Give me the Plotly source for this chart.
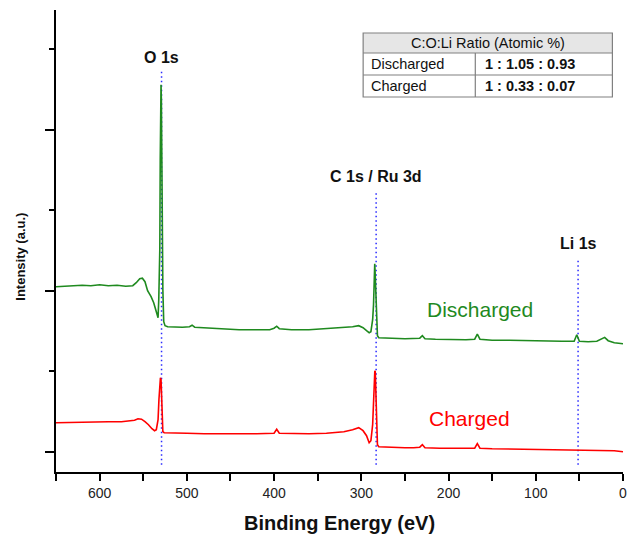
import plotly.graph_objects as go

# XPS survey spectra: binding energy (eV) and intensity (a.u.)
discharged_be = [650, 640, 630, 620, 610, 600, 590, 580, 570, 562, 558, 554, 551, 548, 545, 541,
                 538, 536, 534, 533, 532.2, 531.5, 531, 530.5, 530, 529.6, 529.2, 528.8, 528.4,
                 527.5, 526.5, 525, 522, 515, 505, 497, 494, 491, 480, 460, 440, 420, 405, 400,
                 397, 394, 380, 360, 340, 320, 310, 303, 298, 294, 291, 289, 287, 286, 285.5,
                 285, 284.6, 284.2, 283.8, 283.2, 282.5, 281.5, 280, 275, 265, 250, 240, 233,
                 230, 227, 215, 200, 180, 170, 167, 164, 150, 130, 110, 90, 70, 56, 53, 50, 40,
                 30, 25, 21, 17, 10, 5, 0]
discharged_int = [165, 165.5, 166, 166.5, 166, 167, 166, 166.5, 165.5, 166, 169, 173, 173.5, 170,
                  161, 155, 149, 142, 136, 134, 152, 190, 202, 292, 362, 367, 352, 302, 252,
                  162, 130, 126, 125, 124.5, 124.5, 125, 126.5, 124.5, 124, 123, 122, 122, 122,
                  123.5, 125.5, 123, 122, 122, 123, 124, 125, 126, 124, 121, 119, 120, 132, 147,
                  167, 186, 188, 180, 167, 152, 127, 116, 114, 114, 113.5, 113, 113, 113.5,
                  116, 113, 112.5, 112, 112, 112.5, 117.5, 112.5, 111.5, 111.5, 111, 111, 110.5,
                  110.5, 117, 110.5, 110, 110.5, 112.5, 114.3, 111, 109, 108.5, 108]

charged_be = [650, 630, 610, 590, 575, 565, 560, 556, 552, 548, 544, 540, 537, 535, 533, 532,
              531, 530.3, 529.6, 529, 528.3, 527.5, 526, 520, 500, 480, 460, 440, 420, 400,
              397, 394, 380, 360, 340, 320, 310, 303, 298, 294, 291, 289, 287, 286, 285,
              284.5, 284, 283.5, 283, 282.5, 281.5, 280, 270, 250, 240, 233, 230, 227, 210,
              190, 170, 167, 164, 150, 120, 100, 80, 60, 50, 40, 20, 10, 0]
charged_int = [29, 29.5, 30, 30, 30, 30.5, 31.5, 33, 32.5, 30, 27, 23, 21, 22, 32, 52,
               67, 74, 72, 57, 32, 20, 19, 19, 18.5, 18, 18, 17.5, 18, 18.5,
               22.5, 18.5, 18, 18, 18.5, 20, 22, 24, 21, 16, 9, 11, 27, 52, 74,
               81, 80, 67, 47, 22, 7, 5, 4.5, 4, 4, 4.5, 7, 4, 3.5,
               3.5, 3.5, 8, 3.5, 3, 2.5, 2.5, 2, 2, 2, 1.5, 1.5, 1, 0]

# Core-level assignments
peak_labels = ["O 1s", "C 1s / Ru 3d", "Li 1s"]
peak_energies = [529, 283, 51.5]
peak_label_heights = [394, 275, 208]

# Surface composition table
table_title = "C:O:Li Ratio (Atomic %)"
table_states = ["Discharged", "Charged"]
table_ratios = ["1 : 1.05 : 0.93", "1 : 0.33 : 0.07"]

GREEN = "#1f8a1f"
RED = "#ff0000"
BLUE = "#2a2aff"
FONT = "Arial, Liberation Sans, sans-serif"

fig = go.Figure()
fig.add_trace(go.Scatter(x=discharged_be, y=discharged_int, mode="lines",
                         line=dict(color=GREEN, width=1.6), name="Discharged"))
fig.add_trace(go.Scatter(x=charged_be, y=charged_int, mode="lines",
                         line=dict(color=RED, width=1.6), name="Charged"))

annotations = []
shapes = []

# dotted guide lines with peak labels
for lab, e, h in zip(peak_labels, peak_energies, peak_label_heights):
    shapes.append(dict(type="line", xref="x", yref="y", x0=e, x1=e, y0=-13, y1=h - 14,
                       line=dict(color=BLUE, width=1.5, dash="1.5px,3px"), layer="below"))
    annotations.append(dict(x=e, y=h, xref="x", yref="y", text=f"<b>{lab}</b>",
                            showarrow=False, font=dict(size=16, color="#111111", family=FONT),
                            xanchor="center", yanchor="middle"))

# series labels
annotations.append(dict(x=163.5, y=142, xref="x", yref="y", text="Discharged", showarrow=False,
                        font=dict(size=21, color=GREEN, family=FONT)))
annotations.append(dict(x=176, y=33, xref="x", yref="y", text="Charged", showarrow=False,
                        font=dict(size=21, color=RED, family=FONT)))

# composition table (paper coordinates)
tx0, tx1, tdiv = 0.5417, 0.9813, 0.7395
ty = [0.9502, 0.9069, 0.8593, 0.8117]
shapes.append(dict(type="rect", xref="paper", yref="paper", x0=tx0, x1=tx1, y0=ty[1], y1=ty[0],
                   fillcolor="#e6e6e6", line=dict(width=0), layer="below"))
shapes.append(dict(type="rect", xref="paper", yref="paper", x0=tx0, x1=tx1, y0=ty[3], y1=ty[0],
                   line=dict(color="#808080", width=1.2)))
for yy in ty[1:3]:
    shapes.append(dict(type="line", xref="paper", yref="paper", x0=tx0, x1=tx1, y0=yy, y1=yy,
                       line=dict(color="#808080", width=1.2)))
shapes.append(dict(type="line", xref="paper", yref="paper", x0=tdiv, x1=tdiv, y0=ty[3], y1=ty[1],
                   line=dict(color="#808080", width=1.2)))
annotations.append(dict(x=(tx0 + tx1) / 2, y=(ty[0] + ty[1]) / 2, xref="paper", yref="paper",
                        text=table_title, showarrow=False, xanchor="center", yanchor="middle",
                        font=dict(size=14.5, color="#111111", family=FONT)))
for i, (state, ratio) in enumerate(zip(table_states, table_ratios)):
    yc = (ty[i + 1] + ty[i + 2]) / 2
    annotations.append(dict(x=tx0 + 0.011, y=yc, xref="paper", yref="paper", text=state,
                            showarrow=False, xanchor="left", yanchor="middle",
                            font=dict(size=14.5, color="#111111", family=FONT)))
    annotations.append(dict(x=tdiv + 0.014, y=yc, xref="paper", yref="paper", text=f"<b>{ratio}</b>",
                            showarrow=False, xanchor="left", yanchor="middle",
                            font=dict(size=14.5, color="#111111", family=FONT)))

# axis titles
annotations.append(dict(x=0.5, y=-0.110, xref="paper", yref="paper", text="<b>Binding Energy (eV)</b>",
                        showarrow=False, xanchor="center", yanchor="middle",
                        font=dict(size=20, color="#111111", family=FONT)))
annotations.append(dict(x=-0.0625, y=0.465, xref="paper", yref="paper", text="<b>Intensity (a.u.)</b>",
                        showarrow=False, textangle=-90, xanchor="center", yanchor="middle",
                        font=dict(size=13, color="#111111", family=FONT)))

fig.update_layout(
    width=632, height=536,
    margin=dict(l=56, r=5, t=10, b=64),
    paper_bgcolor="white", plot_bgcolor="white",
    showlegend=False,
    font=dict(family=FONT, color="#111111"),
    annotations=annotations, shapes=shapes,
    xaxis=dict(range=[650, 0], showgrid=False, zeroline=False,
               showline=True, linecolor="black", linewidth=2,
               ticks="outside", ticklen=7, tickwidth=2, tickcolor="black",
               tick0=0, dtick=100, tickfont=dict(size=14, color="#222222", family=FONT),
               minor=dict(ticks="outside", ticklen=7, tickwidth=2, tickcolor="black",
                          tick0=0, dtick=50, showgrid=False)),
    yaxis=dict(range=[-20.3, 441.7], showgrid=False, zeroline=False,
               showline=True, linecolor="black", linewidth=2,
               showticklabels=False,
               ticks="outside", ticklen=9, tickwidth=2, tickcolor="black",
               tick0=0, dtick=161,
               minor=dict(ticks="outside", ticklen=5, tickwidth=2, tickcolor="black",
                          tick0=0, dtick=80.5, showgrid=False)),
)

fig.write_html("out.html")
